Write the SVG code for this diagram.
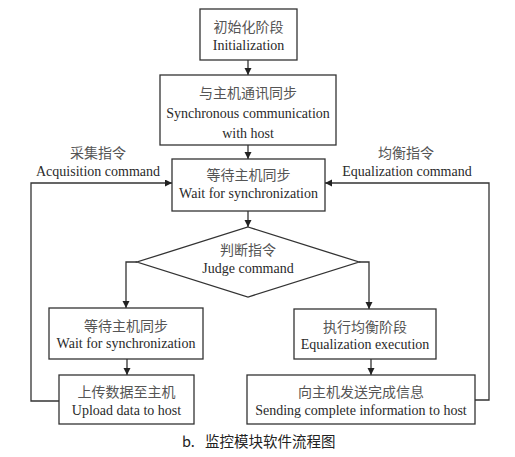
<svg xmlns="http://www.w3.org/2000/svg" width="515" height="457" viewBox="0 0 515 457">
<defs>
<style>
.box{fill:#fff;stroke:#333;stroke-width:1.3}
.ln{fill:none;stroke:#333;stroke-width:1.3}
.en{font-family:"Liberation Serif","Times New Roman",serif;font-size:14px;fill:#2a2a2a;text-anchor:middle}
.zh{font-family:"Noto Sans CJK SC","Noto Sans",sans-serif;font-size:14px;fill:#555;text-anchor:middle}
.cap{font-family:"Noto Sans CJK SC","Noto Sans",sans-serif;font-size:14.5px;fill:#222}
</style>
<marker id="ah" markerUnits="userSpaceOnUse" markerWidth="8" markerHeight="8" refX="7" refY="3.5" orient="auto">
<path d="M0,0 L7,3.5 L0,7 z" fill="#222"/>
</marker>
</defs>
<rect width="515" height="457" fill="#fff"/>
<g id="connectors">
<path class="ln" d="M248,60 V75" marker-end="url(#ah)"/>
<path class="ln" d="M248,145 V159" marker-end="url(#ah)"/>
<path class="ln" d="M248,211 V227" marker-end="url(#ah)"/>
<path class="ln" d="M137,262 H126 V308" marker-end="url(#ah)"/>
<path class="ln" d="M359,262 H369 V309" marker-end="url(#ah)"/>
<path class="ln" d="M127,359 V375" marker-end="url(#ah)"/>
<path class="ln" d="M371,359 V375" marker-end="url(#ah)"/>
<path class="ln" d="M59,401 H31 V183 H172" marker-end="url(#ah)"/>
<path class="ln" d="M475,400 H489 V183 H325" marker-end="url(#ah)"/>
<text class="zh" x="98" y="158">采集指令</text>
<text class="en" x="98" y="176">Acquisition command</text>
<text class="zh" x="406" y="158">均衡指令</text>
<text class="en" x="407" y="176">Equalization command</text>
</g>
<g id="init">
<rect class="box" x="200" y="9" width="97" height="51"/>
<text class="zh" x="248.5" y="32">初始化阶段</text>
<text class="en" x="248.5" y="50">Initialization</text>
</g>
<g id="sync">
<rect class="box" x="160" y="75" width="176" height="70"/>
<text class="zh" x="248" y="98">与主机通讯同步</text>
<text class="en" x="248" y="118">Synchronous communication</text>
<text class="en" x="248" y="138">with host</text>
</g>
<g id="wait1">
<rect class="box" x="172" y="159" width="153" height="52"/>
<text class="zh" x="248.5" y="180">等待主机同步</text>
<text class="en" x="248.5" y="198">Wait for synchronization</text>
</g>
<g id="judge">
<polygon class="box" points="248,227 359,262 248,297 137,262"/>
<text class="zh" x="248" y="255">判断指令</text>
<text class="en" x="248" y="273">Judge command</text>
</g>
<g id="wait2">
<rect class="box" x="49" y="308" width="154" height="51"/>
<text class="zh" x="126" y="331">等待主机同步</text>
<text class="en" x="126" y="348">Wait for synchronization</text>
</g>
<g id="upload">
<rect class="box" x="59" y="375" width="135" height="49"/>
<text class="zh" x="126.5" y="397">上传数据至主机</text>
<text class="en" x="126.5" y="415">Upload data to host</text>
</g>
<g id="equalize">
<rect class="box" x="294" y="309" width="142" height="50"/>
<text class="zh" x="365" y="332">执行均衡阶段</text>
<text class="en" x="365" y="349">Equalization execution</text>
</g>
<g id="send">
<rect class="box" x="247" y="375" width="228" height="49"/>
<text class="zh" x="361" y="397">向主机发送完成信息</text>
<text class="en" x="361" y="415">Sending complete information to host</text>
</g>
<g id="caption">
<text class="cap" x="182" y="447">b.</text>
<text class="cap" x="205" y="447">监控模块软件流程图</text>
</g>
</svg>
